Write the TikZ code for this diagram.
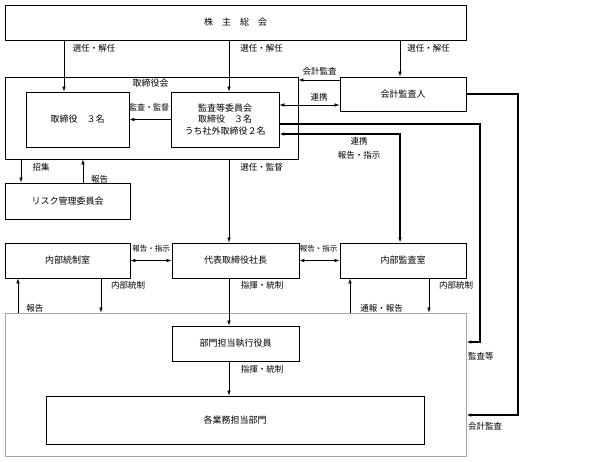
\documentclass[tikz,border=0pt]{standalone}
\usepackage{fontspec}
\setmainfont{Noto Sans CJK JP}
\usepackage{tikz}
\usetikzlibrary{positioning, arrows.meta}
\tikzset{
  box/.style={draw, line width=0.9pt, minimum height=35pt, inner sep=0pt, align=center, font=\fontsize{9}{11.5}\selectfont},
  lbl/.style={inner sep=0pt, align=center, font=\fontsize{8.5}{14}\selectfont},
  slbl/.style={inner sep=0pt, font=\fontsize{7.5}{9}\selectfont},
  arr/.style={-{Latex[length=5pt,width=3.6pt]}, line width=0.6pt},
  darr/.style={{Latex[length=5pt,width=3.6pt]}-{Latex[length=5pt,width=3.6pt]}, line width=0.6pt},
  route/.style={arr, line width=1.2pt},
  droute/.style={darr, line width=1.2pt},
}

\begin{document}
\begin{tikzpicture}[x=1pt, y=-1pt]
\useasboundingbox (0,0) rectangle (600,461);
% Boxes
\node[box, minimum width=461pt] (soukai) at (235.5,22.5) {株　主　総　会};
\node[box, minimum width=293pt, minimum height=82pt] (board) at (151.5,118) {};
\node[lbl, font=\fontsize{9}{11}\selectfont] (boardlbl) at (150.5,83) {取締役会};
\node[box, minimum width=103pt, minimum height=55pt] (directors) at (77.5,119.5) {取締役　３名};
\node[box, minimum width=108pt, minimum height=55pt] (audit) at (225,119.5) {監査等委員会\\取締役　３名\\うち社外取締役２名};
\node[box, minimum width=126pt, minimum height=34pt] (auditor) at (403,94) {会計監査人};
\node[box, minimum width=125pt, minimum height=36pt] (risk) at (67.5,201) {リスク管理委員会};
\node[box, minimum width=125pt] (ictrl) at (67.5,260.5) {内部統制室};
\node[box, minimum width=127pt] (ceo) at (235.5,260.5) {代表取締役社長};
\node[box, minimum width=126pt] (iaudit) at (403,260.5) {内部監査室};
\node[box, draw=gray!70, minimum width=461pt, minimum height=143pt] (dept) at (235.5,384.5) {};
\node[box, minimum width=127pt] (officer) at (235.5,343.5) {部門担当執行役員};
\node[box, minimum width=378pt, minimum height=48pt] (units) at (235,420) {各業務担当部門};
% Columns and rows
\coordinate (xa) at (64,0);  \coordinate (xb) at (229,0);
\coordinate (xc) at (400,0); \coordinate (xd) at (21,0);
\coordinate (xe) at (83,0);  \coordinate (xf) at (101,0);
\coordinate (xg) at (18,0);  \coordinate (xh) at (350,0);
\coordinate (xi) at (429,0); \coordinate (xj) at (480,0);
\coordinate (xk) at (518,0);
\coordinate (ya) at (0,80);  \coordinate (yb) at (0,105);
\coordinate (yc) at (0,124); \coordinate (yd) at (0,134);
\coordinate (ye) at (0,342); \coordinate (yf) at (0,415);
% Top connectors
\draw[arr] (soukai.south -| xa) -- (directors.north -| xa);
\draw[arr] (soukai.south -| xb) -- (audit.north -| xb);
\draw[arr] (soukai.south -| xc) -- (auditor.north -| xc);
\draw[arr] (audit.west) -- (directors.east);
\draw[arr] (auditor.west |- ya) -- (board.east |- ya);
\draw[darr] (audit.east |- yb) -- (auditor.west |- yb);
% Right routes
\draw[route] (audit.east |- yc) -| (xj |- ye) -- (dept.east |- ye);
\draw[route] (auditor.east) -| (xk |- yf) -- (dept.east |- yf);
\draw[droute] (audit.east |- yd) -| (iaudit.north -| xc);
% Middle connectors
\draw[arr] (board.south -| xd) -- (risk.north -| xd);
\draw[arr] (risk.north -| xe) -- (board.south -| xe);
\draw[arr] (board.south -| xb) -- (ceo.north -| xb);
\draw[darr] (ictrl.east) -- (ceo.west);
\draw[darr] (ceo.east) -- (iaudit.west);
% Bottom connectors
\draw[arr] (ictrl.south -| xf) -- (dept.north -| xf);
\draw[arr] (dept.north -| xg) -- (ictrl.south -| xg);
\draw[arr] (ceo.south -| xb) -- (officer.north -| xb);
\draw[arr] (dept.north -| xh) -- (iaudit.south -| xh);
\draw[arr] (iaudit.south -| xi) -- (dept.north -| xi);
\draw[arr] (officer.south -| xb) -- (units.north -| xb);
% Labels
\node[lbl] (sel1) at (94,48) {選任・解任};
\node[lbl] (sel2) at (261.5,48) {選任・解任};
\node[lbl] (sel3) at (428.5,48) {選任・解任};
\node[lbl] (acc1) at (319.5,71) {会計監査};
\node[lbl] (coop1) at (319,97) {連携};
\node[lbl, font=\fontsize{8}{10}\selectfont] (supv) at (149,107) {監査・監督};
\node[lbl] (coop2) at (359,148) {連携\\報告・指示};
\node[lbl] (conv) at (41,167) {招集};
\node[lbl] (rep1) at (99.5,179) {報告};
\node[lbl] (sel4) at (261.5,167) {選任・監督};
\node[slbl] (rep2) at (151,249) {報告・指示};
\node[slbl] (rep3) at (318.5,249) {報告・指示};
\node[lbl] (ic1) at (128,285) {内部統制};
\node[lbl] (cmd1) at (262,285) {指揮・統制};
\node[lbl] (ic2) at (456,285) {内部統制};
\node[lbl] (rep4) at (35,308) {報告};
\node[lbl] (rep5) at (381.5,308) {通報・報告};
\node[lbl] (cmd2) at (262,369) {指揮・統制};
\node[lbl, anchor=west] (aud) at (468,356) {監査等};
\node[lbl, anchor=west] (acc2) at (468,426) {会計監査};
\end{tikzpicture}
\end{document}
